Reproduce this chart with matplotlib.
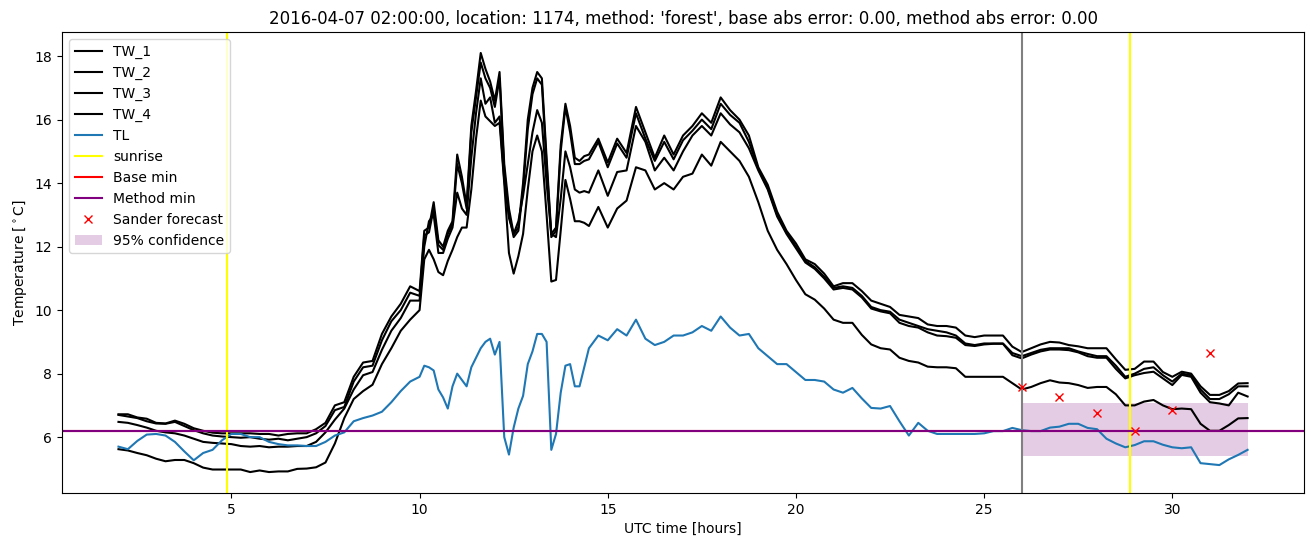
import numpy as np
from matplotlib import pyplot as plt

# time axis [hours]: quarter hours, finer steps through the midday spikes
t = np.concatenate([np.arange(2.0, 10.01, 0.25),
                    np.arange(10.125, 14.51, 0.125),
                    np.arange(14.75, 32.01, 0.25)])

tw_1 = [6.72, 6.72, 6.62, 6.58, 6.45, 6.43, 6.52, 6.42, 6.28, 6.2, 6.14, 6.12, 6.12, 6.12, 6.12, 6.1, 6.1,
        6.05, 6.1, 6.12, 6.12, 6.25, 6.45, 7.0, 7.1, 7.9, 8.35, 8.4, 9.25, 9.8, 10.2, 10.75, 10.6,
        12.5, 12.6, 13.4, 12.2, 12.0, 12.5, 12.8, 14.9, 14.2, 13.3, 15.8, 16.9, 18.1, 17.6, 17.2, 16.6,
        17.5, 14.6, 13.2, 12.4, 12.6, 14.0, 16.0, 17.0, 17.5, 17.3, 14.8, 12.4, 12.6, 15.2, 16.5, 15.8,
        14.8, 14.7, 14.85, 14.9,
        15.4, 14.65, 15.4, 14.95, 16.4, 15.6, 14.8, 15.5, 14.9, 15.5, 15.8, 16.2, 15.9, 16.7, 16.3, 16.0,
        15.5, 14.5, 13.95, 13.1, 12.5, 12.1, 11.6, 11.45, 11.15, 10.75, 10.85, 10.85, 10.6, 10.3, 10.2,
        10.1, 9.85, 9.8, 9.75, 9.55, 9.5, 9.5, 9.45, 9.2, 9.15, 9.2, 9.2, 9.2, 8.85, 8.68, 8.8, 8.92, 9.0,
        8.98, 8.9, 8.86, 8.8, 8.8, 8.8, 8.45, 8.12, 8.15, 8.38, 8.38, 8.05, 7.9, 8.06, 8.0, 7.6, 7.33,
        7.33, 7.45, 7.69, 7.7]
tw_2 = [6.7, 6.65, 6.6, 6.5, 6.43, 6.42, 6.48, 6.35, 6.22, 6.12, 6.05, 6.02, 6.0, 5.98, 6.0, 5.95, 5.92,
        5.95, 5.9, 5.95, 6.0, 6.12, 6.35, 6.85, 6.95, 7.75, 8.2, 8.25, 9.05, 9.65, 10.0, 10.55, 10.45,
        12.35, 12.45, 13.2, 12.05, 11.9, 12.4, 12.7, 14.6, 14.0, 13.2, 15.6, 16.7, 17.8, 17.3, 17.0, 16.4,
        17.3, 14.4, 13.0, 12.3, 12.5, 13.8, 15.7, 16.8, 17.3, 17.1, 14.6, 12.3, 12.5, 15.0, 16.4, 15.6,
        14.6, 14.6, 14.7, 14.75,
        15.3, 14.5, 15.25, 14.8, 16.2, 15.4, 14.7, 15.3, 14.75, 15.35, 15.65, 16.0, 15.7, 16.5, 16.15,
        15.9, 15.3, 14.45, 13.85, 13.0, 12.45, 12.0, 11.55, 11.35, 11.05, 10.7, 10.75, 10.7, 10.45, 10.1,
        10.0, 9.95, 9.7, 9.6, 9.5, 9.4, 9.35, 9.3, 9.2, 8.95, 8.9, 8.95, 8.95, 8.95, 8.65, 8.55, 8.65,
        8.75, 8.8, 8.8, 8.8, 8.7, 8.62, 8.55, 8.55, 8.25, 7.9, 8.0, 8.15, 8.2, 7.95, 7.75, 8.0, 7.95,
        7.5, 7.2, 7.2, 7.35, 7.6, 7.6]
tw_3 = [6.48, 6.45, 6.38, 6.3, 6.2, 6.15, 6.12, 6.05, 5.95, 5.85, 5.82, 5.8, 5.78, 5.72, 5.7, 5.72, 5.68,
        5.7, 5.7, 5.72, 5.72, 5.85, 6.15, 6.55, 6.9, 7.5, 7.95, 8.05, 8.75, 9.35, 9.75, 10.3, 10.3,
        12.0, 12.8, 13.0, 11.8, 11.8, 12.25, 12.6, 13.7, 13.2, 13.0, 14.8, 16.2, 17.3, 16.5, 16.7, 15.9,
        16.1, 14.1, 12.9, 12.4, 12.8, 13.6, 14.6, 15.6, 16.3, 15.9, 14.0, 12.4, 12.3, 13.5, 15.0, 14.5,
        13.8, 13.7, 13.75, 13.7,
        14.4, 13.6, 14.35, 14.4, 15.8, 15.3, 14.4, 14.8, 14.4, 15.0, 15.5, 15.8, 15.5, 16.2, 15.85, 15.6,
        15.1, 14.4, 13.8, 12.95, 12.4, 11.95, 11.5, 11.3, 11.0, 10.65, 10.7, 10.65, 10.4, 10.05, 9.96,
        9.9, 9.6, 9.5, 9.45, 9.3, 9.2, 9.18, 9.13, 8.9, 8.87, 8.92, 8.94, 8.94, 8.58, 8.48, 8.6, 8.7,
        8.76, 8.76, 8.74, 8.67, 8.55, 8.5, 8.5, 8.15, 7.85, 7.95, 8.02, 8.06, 7.85, 7.64, 7.96, 7.9,
        7.4, 7.1, 7.06, 7.0, 7.4, 7.28]
tw_4 = [5.62, 5.58, 5.5, 5.43, 5.32, 5.24, 5.28, 5.28, 5.18, 5.04, 4.98, 4.98, 4.98, 4.98, 4.9, 4.95,
        4.9, 4.92, 4.92, 5.0, 5.01, 5.05, 5.2, 5.8, 6.6, 7.2, 7.45, 7.65, 8.3, 8.8, 9.35, 9.7, 10.0,
        11.6, 11.9, 11.6, 11.2, 11.1, 11.55, 11.9, 12.3, 12.6, 12.6, 13.8, 15.4, 16.6, 16.1, 15.95, 15.8,
        15.9, 14.0, 11.8, 11.15, 11.7, 12.4, 13.8, 15.0, 15.5, 15.0, 13.0, 10.9, 10.95, 12.5, 14.1, 13.5,
        12.8, 12.8, 12.75, 12.65,
        13.25, 12.6, 13.2, 13.45, 14.5, 14.4, 13.8, 14.0, 13.8, 14.2, 14.3, 14.9, 14.55, 15.3, 15.0, 14.7,
        14.2, 13.4, 12.5, 11.9, 11.45, 10.95, 10.5, 10.33, 10.05, 9.7, 9.6, 9.6, 9.22, 8.92, 8.8, 8.76,
        8.5, 8.4, 8.35, 8.22, 8.2, 8.2, 8.17, 7.9, 7.9, 7.9, 7.9, 7.9, 7.7, 7.5, 7.58, 7.7, 7.79, 7.72,
        7.7, 7.64, 7.55, 7.58, 7.58, 7.35, 7.0, 7.0, 7.12, 7.17, 7.0, 6.88, 6.9, 6.88, 6.42, 6.2, 6.2,
        6.38, 6.59, 6.6]
tl = [5.7, 5.62, 5.88, 6.08, 6.1, 6.05, 5.85, 5.55, 5.27, 5.5, 5.6, 5.9, 6.1, 6.1, 6.0, 6.0, 5.85,
      5.78, 5.74, 5.74, 5.72, 5.72, 5.85, 6.05, 6.15, 6.5, 6.6, 6.68, 6.8, 7.1, 7.45, 7.75, 7.9,
      8.25, 8.2, 8.1, 7.5, 7.25, 6.9, 7.6, 8.0, 7.8, 7.6, 8.2, 8.5, 8.8, 9.0, 9.1, 8.6, 9.0, 6.0, 5.45,
      6.3, 6.9, 7.3, 8.3, 8.7, 9.25, 9.25, 9.0, 5.6, 6.1, 7.4, 8.25, 8.3, 7.6, 7.6, 8.2, 8.8,
      9.2, 9.05, 9.4, 9.2, 9.7, 9.1, 8.9, 9.0, 9.2, 9.2, 9.3, 9.5, 9.35, 9.8, 9.45, 9.2, 9.25, 8.8,
      8.55, 8.3, 8.3, 8.05, 7.8, 7.8, 7.75, 7.5, 7.4, 7.55, 7.22, 6.92, 6.9, 6.98, 6.5, 6.05, 6.45, 6.2,
      6.1, 6.1, 6.1, 6.1, 6.1, 6.12, 6.19, 6.19, 6.29, 6.22, 6.19, 6.19, 6.3, 6.33, 6.42, 6.42, 6.29,
      6.25, 5.95, 5.8, 5.68, 5.75, 5.87, 5.87, 5.76, 5.68, 5.65, 5.68, 5.18, 5.15, 5.12, 5.3, 5.44, 5.6]

sunrise = [4.89, 28.87]
base_min = 6.2
method_min = 6.2
forecast_start = 26
sander_t = [26, 27, 28, 29, 30, 31]
sander_val = [7.57, 7.25, 6.75, 6.19, 6.87, 8.64]
conf_t = [26, 32]
conf_low = [5.41, 5.41]
conf_high = [7.08, 7.08]

fig = plt.figure(figsize=(13.11, 5.47), dpi=100)
ax = fig.add_axes([0.0473, 0.0987, 0.9474, 0.8428])

ax.plot(t, tw_1, 'k', label='TW_1')
ax.plot(t, tw_2, 'k', label='TW_2')
ax.plot(t, tw_3, 'k', label='TW_3')
ax.plot(t, tw_4, 'k', label='TW_4')
ax.plot(t, tl, color='tab:blue', label='TL')
for i, s in enumerate(sunrise):
    ax.axvline(s, color='yellow', label='sunrise' if i == 0 else None)
ax.axvline(forecast_start, color='gray')
ax.axhline(base_min, color='red', label='Base min')
ax.axhline(method_min, color='purple', label='Method min')
ax.plot(sander_t, sander_val, 'rx', label='Sander forecast')
ax.fill_between(conf_t, conf_low, conf_high, color='purple', alpha=0.2, linewidth=0,
                label='95% confidence')

ax.set_xlabel('UTC time [hours]')
ax.set_ylabel(r'Temperature [$^\circ$C]')
ax.set_title("2016-04-07 02:00:00, location: 1174, method: 'forest', "
             "base abs error: 0.00, method abs error: 0.00")
ax.legend(loc='upper left')

plt.savefig('out.png')
